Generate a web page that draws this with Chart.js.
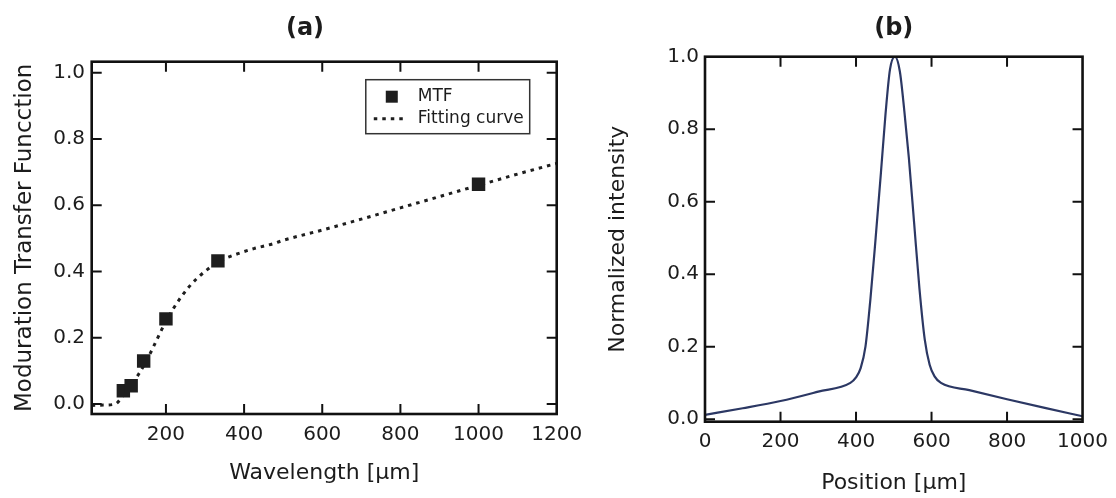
<!DOCTYPE html>
<html>
<head>
<meta charset="utf-8">
<script src="https://cdn.jsdelivr.net/npm/chart.js@4.4.1/dist/chart.umd.min.js"></script>
<style>
  html, body { margin: 0; padding: 0; background: #fff; overflow: hidden; }
  #wrap { position: relative; width: 1116px; height: 498px; overflow: hidden; background: #fff; }
  #wrap canvas { position: absolute; top: 0; }
  #chart-mtf { left: 0; }
  #chart-profile { left: 580px; }
</style>
</head>
<body>
<div id="wrap">
  <canvas id="chart-mtf" width="610" height="498"></canvas>
  <canvas id="chart-profile" width="536" height="498"></canvas>
</div>
<script>
'use strict';

// ── (a) MTF vs wavelength ─────
const mtfWavelength = [91, 111, 143, 200, 333, 1000];
const mtfValue      = [0.040, 0.055, 0.130, 0.257, 0.432, 0.663];

const fitWavelength = [10, 40, 70, 90, 110, 130, 150, 175, 200, 220, 240, 260, 280, 305, 335, 380, 425, 475, 500, 600, 700, 800, 900, 1000, 1100, 1200];
const fitValue      = [-0.004, -0.003, 0.0, 0.025, 0.055, 0.09, 0.13, 0.19, 0.25, 0.29, 0.325, 0.355, 0.38, 0.405, 0.43, 0.452, 0.469, 0.484, 0.494, 0.525, 0.558, 0.592, 0.626, 0.66, 0.694, 0.726];

const mtfXTicks = [200, 400, 600, 800, 1000, 1200];
const mtfYTicks = [0, 0.2, 0.4, 0.6, 0.8, 1.0];

// ── (b) line profile ─────
const profPosition  = [0, 100, 200, 300, 385, 400, 412, 425, 438, 452, 466, 478, 490, 503, 516, 528, 540, 554, 568, 582, 595, 608, 625, 700, 800, 900, 1000];
const profIntensity = [0.012, 0.03, 0.05, 0.076, 0.1, 0.115, 0.14, 0.2, 0.33, 0.5, 0.68, 0.84, 0.965, 1.0, 0.96, 0.85, 0.72, 0.54, 0.36, 0.22, 0.15, 0.118, 0.1, 0.08, 0.055, 0.031, 0.008];

const profXTicks = [0, 200, 400, 600, 800, 1000];
const profYTicks = [0, 0.2, 0.4, 0.6, 0.8, 1.0];

const FONT = "'DejaVu Sans', Verdana, sans-serif";
const INK  = '#1c1c1c';

Chart.defaults.font.family = FONT;
Chart.defaults.color = INK;

// boxed frame with inward ticks on all four sides
const framePlugin = {
  id: 'frame',
  afterDatasetsDraw(chart) {
    const { ctx, chartArea: a, scales } = chart;
    const x = scales.x, y = scales.y;
    const len = 10;
    ctx.save();
    ctx.strokeStyle = '#111';
    ctx.lineWidth = 2;
    ctx.beginPath();
    x.ticks.forEach(t => {
      const px = x.getPixelForValue(t.value);
      if (px <= a.left + 2 || px >= a.right - 2) return;
      ctx.moveTo(px, a.bottom); ctx.lineTo(px, a.bottom - len);
      ctx.moveTo(px, a.top);    ctx.lineTo(px, a.top + len);
    });
    y.ticks.forEach(t => {
      const py = y.getPixelForValue(t.value);
      if (py <= a.top + 2 || py >= a.bottom - 2) return;
      ctx.moveTo(a.left, py);  ctx.lineTo(a.left + len, py);
      ctx.moveTo(a.right, py); ctx.lineTo(a.right - len, py);
    });
    ctx.stroke();
    ctx.lineWidth = 2.6;
    ctx.strokeRect(a.left, a.top, a.width, a.height);
    ctx.restore();
  }
};

// legend box in the upper right of panel (a)
const boxLegendPlugin = {
  id: 'boxLegend',
  afterDraw(chart) {
    const { ctx, chartArea: a } = chart;
    const ds = chart.data.datasets;
    ctx.save();
    ctx.font = `17px ${FONT}`;
    const textW = Math.max(...ds.map(d => ctx.measureText(d.label).width));
    const w = 52 + textW + 6, h = 54;
    const left = a.right - 27 - w, top = a.top + 18;
    ctx.fillStyle = '#fff';
    ctx.fillRect(left, top, w, h);
    ctx.strokeStyle = '#333';
    ctx.lineWidth = 1.5;
    ctx.strokeRect(left, top, w, h);

    ds.forEach((d, i) => {
      const cy = top + 17 + i * 22;
      if (d.showLine) {
        ctx.strokeStyle = d.borderColor;
        ctx.lineWidth = d.borderWidth;
        ctx.setLineDash(d.borderDash);
        ctx.beginPath();
        ctx.moveTo(left + 8, cy); ctx.lineTo(left + 37, cy);
        ctx.stroke();
        ctx.setLineDash([]);
      } else {
        const s = 12;
        ctx.fillStyle = d.backgroundColor;
        ctx.fillRect(left + 26 - s / 2, cy - s / 2, s, s);
      }
      ctx.fillStyle = INK;
      ctx.textBaseline = 'middle';
      ctx.textAlign = 'left';
      ctx.fillText(d.label, left + 52, cy);
    });
    ctx.restore();
  }
};

function fixedTicks(list) {
  return s => { s.ticks = list.map(v => ({ value: v })); };
}

// ── Panel (a) ─────
new Chart(document.getElementById('chart-mtf'), {
  type: 'scatter',
  data: {
    datasets: [
      {
        label: 'MTF',
        data: mtfWavelength.map((x, i) => ({ x, y: mtfValue[i] })),
        pointStyle: 'rect',
        pointRadius: 9.5,
        pointBackgroundColor: '#1e1e1e',
        pointBorderWidth: 0,
        backgroundColor: '#1e1e1e',
        showLine: false,
        order: 0
      },
      {
        label: 'Fitting curve',
        data: fitWavelength.map((x, i) => ({ x, y: fitValue[i] })),
        showLine: true,
        pointRadius: 0,
        borderColor: '#1e1e1e',
        borderWidth: 3,
        borderDash: [3.5, 5],
        cubicInterpolationMode: 'monotone',
        order: 1
      }
    ]
  },
  options: {
    responsive: false,
    animation: false,
    events: [],
    layout: { padding: 0, autoPadding: false },
    plugins: {
      legend: { display: false },
      tooltip: { enabled: false },
      title: {
        display: true,
        text: '(a)',
        color: INK,
        font: { size: 24, weight: 'bold', family: FONT },
        padding: { top: 14.6, bottom: 18.3 }
      }
    },
    scales: {
      x: {
        type: 'linear',
        min: 10, max: 1200,
        afterBuildTicks: fixedTicks(mtfXTicks),
        afterFit: s => { s.height = 84; },
        grid: { display: false, drawTicks: false },
        border: { display: false },
        ticks: { padding: 9, color: INK, font: { size: 20 }, callback: v => String(v) },
        title: {
          display: true, text: 'Wavelength [μm]', color: INK,
          font: { size: 22 }, padding: { top: 11.5, bottom: 11.5 }
        }
      },
      y: {
        type: 'linear',
        min: -0.03, max: 1.033,
        afterBuildTicks: fixedTicks(mtfYTicks),
        afterFit: s => { s.width = 91.7; },
        grid: { display: false, drawTicks: false },
        border: { display: false },
        ticks: { padding: 6.7, color: INK, font: { size: 20 }, callback: v => v.toFixed(1) },
        title: {
          display: true, text: 'Moduration Transfer Funcction', color: INK,
          font: { size: 23 }, padding: { top: 11.5, bottom: 11.5 }
        }
      },
      // empty right gutter so the title centres over the whole panel
      ySpacer: {
        position: 'right',
        display: true,
        afterFit: s => { s.width = 53.3; },
        grid: { display: false, drawTicks: false },
        border: { display: false },
        ticks: { display: false }
      }
    }
  },
  plugins: [framePlugin, boxLegendPlugin]
});

// ── Panel (b) ─────
new Chart(document.getElementById('chart-profile'), {
  type: 'scatter',
  data: {
    datasets: [{
      label: 'Normalized intensity',
      data: profPosition.map((x, i) => ({ x, y: profIntensity[i] })),
      showLine: true,
      pointRadius: 0,
      borderColor: '#2c3864',
      borderWidth: 2.2,
      cubicInterpolationMode: 'monotone'
    }]
  },
  options: {
    responsive: false,
    animation: false,
    events: [],
    layout: { padding: { left: 0, right: 31, top: 0, bottom: 0 }, autoPadding: false },
    plugins: {
      legend: { display: false },
      tooltip: { enabled: false },
      title: {
        display: true,
        fullSize: false,
        text: '(b)',
        color: INK,
        font: { size: 24, weight: 'bold', family: FONT },
        padding: { top: 14.6, bottom: 13.3 }
      }
    },
    scales: {
      x: {
        type: 'linear',
        min: 0, max: 1000,
        afterBuildTicks: fixedTicks(profXTicks),
        afterFit: s => { s.height = 76.3; },
        grid: { display: false, drawTicks: false },
        border: { display: false },
        ticks: { padding: 8, color: INK, font: { size: 20 }, callback: v => String(v) },
        title: {
          display: true, text: 'Position [μm]', color: INK,
          font: { size: 22 }, padding: { top: 1.5, bottom: 1.5 }
        }
      },
      y: {
        type: 'linear',
        min: -0.007, max: 1.0,
        afterBuildTicks: fixedTicks(profYTicks),
        afterFit: s => { s.width = 125; },
        grid: { display: false, drawTicks: false },
        border: { display: false },
        ticks: { padding: 6, color: INK, font: { size: 20 }, callback: v => v.toFixed(1) },
        title: {
          display: true, text: 'Normalized intensity', color: INK,
          font: { size: 22 }, padding: { top: 24.8, bottom: 24.8 }
        }
      }
    }
  },
  plugins: [framePlugin]
});
</script>
</body>
</html>
